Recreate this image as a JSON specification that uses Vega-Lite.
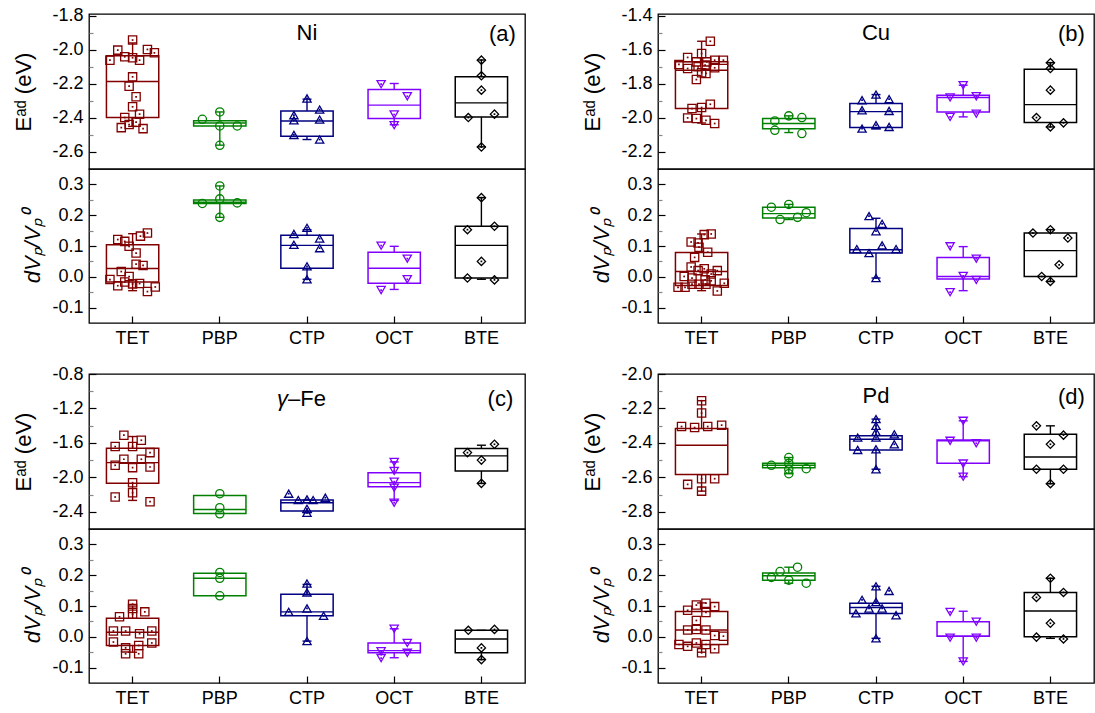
{
"$schema": "https://vega.github.io/schema/vega-lite/v6.json",
"padding": {"left": 12, "top": 6, "right": 0, "bottom": 0},
"config": {
  "font": "Liberation Sans",
  "locale": {"number": {"decimal": ".", "thousands": ",", "grouping": [3], "currency": ["$", ""], "minus": "-"}},
  "view": {"stroke": "black", "strokeWidth": 1.3},
  "tick": {"opacity": 1},
  "axis": {"domain": false, "grid": false, "labelFontSize": 18, "labelColor": "black", "labelFont": "Liberation Sans", "titleFont": "Liberation Sans", "titleFontSize": 22, "titleFontWeight": "normal", "titleColor": "black", "tickColor": "black", "tickWidth": 1.2}
},
"datasets": {
"pts": [
{"p":"a","s":"E","c":"TET","v":-1.943,"j":0},{"p":"a","s":"E","c":"TET","v":-2.002,"j":-0.17},{"p":"a","s":"E","c":"TET","v":-1.998,"j":0.17},{"p":"a","s":"E","c":"TET","v":-2.018,"j":0.25},{"p":"a","s":"E","c":"TET","v":-2.061,"j":-0.26},{"p":"a","s":"E","c":"TET","v":-2.041,"j":-0.09},{"p":"a","s":"E","c":"TET","v":-2.047,"j":0},{"p":"a","s":"E","c":"TET","v":-2.061,"j":0.08},{"p":"a","s":"E","c":"TET","v":-2.159,"j":0},{"p":"a","s":"E","c":"TET","v":-2.214,"j":-0.04},{"p":"a","s":"E","c":"TET","v":-2.276,"j":0.04},{"p":"a","s":"E","c":"TET","v":-2.335,"j":0},{"p":"a","s":"E","c":"TET","v":-2.378,"j":0.08},{"p":"a","s":"E","c":"TET","v":-2.398,"j":-0.09},{"p":"a","s":"E","c":"TET","v":-2.425,"j":0.04},{"p":"a","s":"E","c":"TET","v":-2.439,"j":-0.04},{"p":"a","s":"E","c":"TET","v":-2.457,"j":-0.13},{"p":"a","s":"E","c":"TET","v":-2.463,"j":0.12},
{"p":"a","s":"E","c":"PBP","v":-2.408,"j":-0.2},{"p":"a","s":"E","c":"PBP","v":-2.365,"j":0},{"p":"a","s":"E","c":"PBP","v":-2.447,"j":0},{"p":"a","s":"E","c":"PBP","v":-2.447,"j":0.2},{"p":"a","s":"E","c":"PBP","v":-2.561,"j":0},
{"p":"a","s":"E","c":"CTP","v":-2.286,"j":0},{"p":"a","s":"E","c":"CTP","v":-2.384,"j":-0.15},{"p":"a","s":"E","c":"CTP","v":-2.414,"j":-0.15},{"p":"a","s":"E","c":"CTP","v":-2.351,"j":0.145},{"p":"a","s":"E","c":"CTP","v":-2.41,"j":0.145},{"p":"a","s":"E","c":"CTP","v":-2.5,"j":-0.15},{"p":"a","s":"E","c":"CTP","v":-2.527,"j":0.145},
{"p":"a","s":"E","c":"OCT","v":-2.202,"j":-0.15},{"p":"a","s":"E","c":"OCT","v":-2.273,"j":0.15},{"p":"a","s":"E","c":"OCT","v":-2.38,"j":0},{"p":"a","s":"E","c":"OCT","v":-2.443,"j":0},
{"p":"a","s":"E","c":"BTE","v":-2.061,"j":0},{"p":"a","s":"E","c":"BTE","v":-2.153,"j":0},{"p":"a","s":"E","c":"BTE","v":-2.237,"j":0},{"p":"a","s":"E","c":"BTE","v":-2.398,"j":-0.15},{"p":"a","s":"E","c":"BTE","v":-2.378,"j":0.15},{"p":"a","s":"E","c":"BTE","v":-2.571,"j":0},
{"p":"a","s":"V","c":"TET","v":0.121,"j":-0.17},{"p":"a","s":"V","c":"TET","v":0.115,"j":-0.09},{"p":"a","s":"V","c":"TET","v":0.099,"j":-0.04},{"p":"a","s":"V","c":"TET","v":0.132,"j":0.09},{"p":"a","s":"V","c":"TET","v":0.142,"j":0.17},{"p":"a","s":"V","c":"TET","v":0.077,"j":0.04},{"p":"a","s":"V","c":"TET","v":0.041,"j":0.04},{"p":"a","s":"V","c":"TET","v":0.037,"j":0.12},{"p":"a","s":"V","c":"TET","v":0.017,"j":-0.13},{"p":"a","s":"V","c":"TET","v":0.001,"j":-0.04},{"p":"a","s":"V","c":"TET","v":-0.009,"j":-0.26},{"p":"a","s":"V","c":"TET","v":-0.029,"j":-0.17},{"p":"a","s":"V","c":"TET","v":-0.017,"j":-0.09},{"p":"a","s":"V","c":"TET","v":-0.023,"j":0},{"p":"a","s":"V","c":"TET","v":-0.022,"j":0.08},{"p":"a","s":"V","c":"TET","v":-0.048,"j":0.17},{"p":"a","s":"V","c":"TET","v":-0.033,"j":0.26},
{"p":"a","s":"V","c":"PBP","v":0.295,"j":0},{"p":"a","s":"V","c":"PBP","v":0.253,"j":0},{"p":"a","s":"V","c":"PBP","v":0.238,"j":-0.2},{"p":"a","s":"V","c":"PBP","v":0.24,"j":0.2},{"p":"a","s":"V","c":"PBP","v":0.193,"j":0},
{"p":"a","s":"V","c":"CTP","v":0.159,"j":0},{"p":"a","s":"V","c":"CTP","v":0.139,"j":-0.15},{"p":"a","s":"V","c":"CTP","v":0.104,"j":-0.15},{"p":"a","s":"V","c":"CTP","v":0.124,"j":0.145},{"p":"a","s":"V","c":"CTP","v":0.093,"j":0.145},{"p":"a","s":"V","c":"CTP","v":0.034,"j":0},{"p":"a","s":"V","c":"CTP","v":-0.008,"j":0},
{"p":"a","s":"V","c":"OCT","v":0.101,"j":-0.15},{"p":"a","s":"V","c":"OCT","v":0.059,"j":0.15},{"p":"a","s":"V","c":"OCT","v":-0.008,"j":0.15},{"p":"a","s":"V","c":"OCT","v":-0.043,"j":-0.15},
{"p":"a","s":"V","c":"BTE","v":0.257,"j":0},{"p":"a","s":"V","c":"BTE","v":0.153,"j":-0.16},{"p":"a","s":"V","c":"BTE","v":0.164,"j":0.15},{"p":"a","s":"V","c":"BTE","v":0.05,"j":0},{"p":"a","s":"V","c":"BTE","v":-0.004,"j":-0.16},{"p":"a","s":"V","c":"BTE","v":-0.01,"j":0.15},
{"p":"b","s":"E","c":"TET","v":-1.55,"j":0.1},{"p":"b","s":"E","c":"TET","v":-1.622,"j":0},{"p":"b","s":"E","c":"TET","v":-1.645,"j":-0.16},{"p":"b","s":"E","c":"TET","v":-1.686,"j":-0.26},{"p":"b","s":"E","c":"TET","v":-1.671,"j":-0.06},{"p":"b","s":"E","c":"TET","v":-1.671,"j":0.06},{"p":"b","s":"E","c":"TET","v":-1.661,"j":0.15},{"p":"b","s":"E","c":"TET","v":-1.661,"j":0.25},{"p":"b","s":"E","c":"TET","v":-1.71,"j":-0.16},{"p":"b","s":"E","c":"TET","v":-1.7,"j":-0.04},{"p":"b","s":"E","c":"TET","v":-1.69,"j":0.04},{"p":"b","s":"E","c":"TET","v":-1.706,"j":0.15},{"p":"b","s":"E","c":"TET","v":-1.735,"j":0},{"p":"b","s":"E","c":"TET","v":-1.739,"j":0.05},{"p":"b","s":"E","c":"TET","v":-1.775,"j":-0.06},{"p":"b","s":"E","c":"TET","v":-1.945,"j":-0.11},{"p":"b","s":"E","c":"TET","v":-1.939,"j":0},{"p":"b","s":"E","c":"TET","v":-1.92,"j":0.1},{"p":"b","s":"E","c":"TET","v":-2.0,"j":-0.16},{"p":"b","s":"E","c":"TET","v":-2.004,"j":-0.06},{"p":"b","s":"E","c":"TET","v":-2.014,"j":0.05},{"p":"b","s":"E","c":"TET","v":-2.033,"j":0.15},
{"p":"b","s":"E","c":"PBP","v":-2.018,"j":-0.16},{"p":"b","s":"E","c":"PBP","v":-2.073,"j":-0.16},{"p":"b","s":"E","c":"PBP","v":-1.988,"j":0},{"p":"b","s":"E","c":"PBP","v":-1.998,"j":0.15},{"p":"b","s":"E","c":"PBP","v":-2.092,"j":0.15},
{"p":"b","s":"E","c":"CTP","v":-1.896,"j":-0.16},{"p":"b","s":"E","c":"CTP","v":-1.955,"j":-0.16},{"p":"b","s":"E","c":"CTP","v":-1.863,"j":0},{"p":"b","s":"E","c":"CTP","v":-1.89,"j":0.15},{"p":"b","s":"E","c":"CTP","v":-1.959,"j":0.15},{"p":"b","s":"E","c":"CTP","v":-2.063,"j":-0.16},{"p":"b","s":"E","c":"CTP","v":-2.043,"j":0},{"p":"b","s":"E","c":"CTP","v":-2.053,"j":0.15},
{"p":"b","s":"E","c":"OCT","v":-1.808,"j":0},{"p":"b","s":"E","c":"OCT","v":-1.88,"j":-0.15},{"p":"b","s":"E","c":"OCT","v":-1.873,"j":0.15},{"p":"b","s":"E","c":"OCT","v":-1.994,"j":-0.15},{"p":"b","s":"E","c":"OCT","v":-1.975,"j":0.15},
{"p":"b","s":"E","c":"BTE","v":-1.676,"j":0},{"p":"b","s":"E","c":"BTE","v":-1.71,"j":0},{"p":"b","s":"E","c":"BTE","v":-1.837,"j":0},{"p":"b","s":"E","c":"BTE","v":-1.998,"j":-0.16},{"p":"b","s":"E","c":"BTE","v":-2.029,"j":0.15},{"p":"b","s":"E","c":"BTE","v":-2.053,"j":0},
{"p":"b","s":"V","c":"TET","v":0.139,"j":0.11},{"p":"b","s":"V","c":"TET","v":0.137,"j":0.03},{"p":"b","s":"V","c":"TET","v":0.113,"j":-0.12},{"p":"b","s":"V","c":"TET","v":0.11,"j":-0.04},{"p":"b","s":"V","c":"TET","v":0.096,"j":-0.03},{"p":"b","s":"V","c":"TET","v":0.08,"j":0.07},{"p":"b","s":"V","c":"TET","v":0.063,"j":-0.08},{"p":"b","s":"V","c":"TET","v":0.032,"j":-0.12},{"p":"b","s":"V","c":"TET","v":0.02,"j":-0.04},{"p":"b","s":"V","c":"TET","v":0.026,"j":0.03},{"p":"b","s":"V","c":"TET","v":0.009,"j":0.11},{"p":"b","s":"V","c":"TET","v":0.02,"j":0.18},{"p":"b","s":"V","c":"TET","v":0.001,"j":-0.2},{"p":"b","s":"V","c":"TET","v":-0.004,"j":-0.11},{"p":"b","s":"V","c":"TET","v":-0.01,"j":0.04},{"p":"b","s":"V","c":"TET","v":-0.013,"j":0.11},{"p":"b","s":"V","c":"TET","v":-0.021,"j":0.26},{"p":"b","s":"V","c":"TET","v":-0.034,"j":-0.27},{"p":"b","s":"V","c":"TET","v":-0.034,"j":-0.19},{"p":"b","s":"V","c":"TET","v":-0.024,"j":-0.11},{"p":"b","s":"V","c":"TET","v":-0.024,"j":-0.03},{"p":"b","s":"V","c":"TET","v":-0.024,"j":0.05},{"p":"b","s":"V","c":"TET","v":-0.046,"j":0.18},
{"p":"b","s":"V","c":"PBP","v":0.226,"j":-0.2},{"p":"b","s":"V","c":"PBP","v":0.235,"j":0},{"p":"b","s":"V","c":"PBP","v":0.186,"j":-0.1},{"p":"b","s":"V","c":"PBP","v":0.193,"j":0.1},{"p":"b","s":"V","c":"PBP","v":0.208,"j":0.2},
{"p":"b","s":"V","c":"CTP","v":0.197,"j":-0.08},{"p":"b","s":"V","c":"CTP","v":0.172,"j":0.07},{"p":"b","s":"V","c":"CTP","v":0.148,"j":0},{"p":"b","s":"V","c":"CTP","v":0.102,"j":0.07},{"p":"b","s":"V","c":"CTP","v":0.09,"j":-0.22},{"p":"b","s":"V","c":"CTP","v":0.09,"j":0.23},{"p":"b","s":"V","c":"CTP","v":0.077,"j":-0.08},{"p":"b","s":"V","c":"CTP","v":-0.004,"j":0},
{"p":"b","s":"V","c":"OCT","v":0.099,"j":-0.15},{"p":"b","s":"V","c":"OCT","v":0.059,"j":0.15},{"p":"b","s":"V","c":"OCT","v":0.003,"j":0},{"p":"b","s":"V","c":"OCT","v":-0.01,"j":0.15},{"p":"b","s":"V","c":"OCT","v":-0.05,"j":-0.15},
{"p":"b","s":"V","c":"BTE","v":0.142,"j":-0.2},{"p":"b","s":"V","c":"BTE","v":0.153,"j":0},{"p":"b","s":"V","c":"BTE","v":0.126,"j":0.2},{"p":"b","s":"V","c":"BTE","v":0.039,"j":0.1},{"p":"b","s":"V","c":"BTE","v":0.001,"j":-0.1},{"p":"b","s":"V","c":"BTE","v":-0.015,"j":0},
{"p":"c","s":"E","c":"TET","v":-1.511,"j":-0.1},{"p":"c","s":"E","c":"TET","v":-1.643,"j":-0.2},{"p":"c","s":"E","c":"TET","v":-1.643,"j":0},{"p":"c","s":"E","c":"TET","v":-1.569,"j":0.1},{"p":"c","s":"E","c":"TET","v":-1.713,"j":0.2},{"p":"c","s":"E","c":"TET","v":-1.79,"j":-0.1},{"p":"c","s":"E","c":"TET","v":-1.79,"j":0.1},{"p":"c","s":"E","c":"TET","v":-1.86,"j":-0.2},{"p":"c","s":"E","c":"TET","v":-1.887,"j":0},{"p":"c","s":"E","c":"TET","v":-1.88,"j":0.2},{"p":"c","s":"E","c":"TET","v":-2.062,"j":0},{"p":"c","s":"E","c":"TET","v":-2.179,"j":0},{"p":"c","s":"E","c":"TET","v":-2.229,"j":-0.2},{"p":"c","s":"E","c":"TET","v":-2.283,"j":0.2},
{"p":"c","s":"E","c":"PBP","v":-2.19,"j":0},{"p":"c","s":"E","c":"PBP","v":-2.353,"j":0},{"p":"c","s":"E","c":"PBP","v":-2.423,"j":0},
{"p":"c","s":"E","c":"CTP","v":-2.19,"j":-0.21},{"p":"c","s":"E","c":"CTP","v":-2.264,"j":-0.1},{"p":"c","s":"E","c":"CTP","v":-2.256,"j":0},{"p":"c","s":"E","c":"CTP","v":-2.264,"j":0.07},{"p":"c","s":"E","c":"CTP","v":-2.237,"j":0.21},{"p":"c","s":"E","c":"CTP","v":-2.365,"j":0},{"p":"c","s":"E","c":"CTP","v":-2.412,"j":0},
{"p":"c","s":"E","c":"OCT","v":-1.821,"j":0},{"p":"c","s":"E","c":"OCT","v":-1.926,"j":0},{"p":"c","s":"E","c":"OCT","v":-2.05,"j":0},{"p":"c","s":"E","c":"OCT","v":-2.12,"j":0},{"p":"c","s":"E","c":"OCT","v":-2.295,"j":0},
{"p":"c","s":"E","c":"BTE","v":-1.713,"j":-0.16},{"p":"c","s":"E","c":"BTE","v":-1.616,"j":0.15},{"p":"c","s":"E","c":"BTE","v":-1.8,"j":0},{"p":"c","s":"E","c":"BTE","v":-2.07,"j":0},
{"p":"c","s":"V","c":"TET","v":0.106,"j":0},{"p":"c","s":"V","c":"TET","v":0.092,"j":0},{"p":"c","s":"V","c":"TET","v":0.073,"j":0},{"p":"c","s":"V","c":"TET","v":0.081,"j":0.14},{"p":"c","s":"V","c":"TET","v":0.065,"j":-0.15},{"p":"c","s":"V","c":"TET","v":0.019,"j":-0.22},{"p":"c","s":"V","c":"TET","v":0.019,"j":-0.08},{"p":"c","s":"V","c":"TET","v":0.01,"j":0.08},{"p":"c","s":"V","c":"TET","v":0.019,"j":0.22},{"p":"c","s":"V","c":"TET","v":-0.017,"j":-0.22},{"p":"c","s":"V","c":"TET","v":-0.02,"j":0.22},{"p":"c","s":"V","c":"TET","v":-0.036,"j":-0.08},{"p":"c","s":"V","c":"TET","v":-0.028,"j":0.07},{"p":"c","s":"V","c":"TET","v":-0.055,"j":-0.08},{"p":"c","s":"V","c":"TET","v":-0.055,"j":0.07},
{"p":"c","s":"V","c":"PBP","v":0.209,"j":0},{"p":"c","s":"V","c":"PBP","v":0.19,"j":0},{"p":"c","s":"V","c":"PBP","v":0.133,"j":0},
{"p":"c","s":"V","c":"CTP","v":0.173,"j":0},{"p":"c","s":"V","c":"CTP","v":0.144,"j":0},{"p":"c","s":"V","c":"CTP","v":0.092,"j":0},{"p":"c","s":"V","c":"CTP","v":0.081,"j":-0.21},{"p":"c","s":"V","c":"CTP","v":0.068,"j":0.19},{"p":"c","s":"V","c":"CTP","v":-0.014,"j":0},
{"p":"c","s":"V","c":"OCT","v":0.026,"j":0},{"p":"c","s":"V","c":"OCT","v":-0.02,"j":0.15},{"p":"c","s":"V","c":"OCT","v":-0.047,"j":-0.15},{"p":"c","s":"V","c":"OCT","v":-0.069,"j":-0.15},{"p":"c","s":"V","c":"OCT","v":-0.052,"j":0.15},
{"p":"c","s":"V","c":"BTE","v":0.021,"j":-0.15},{"p":"c","s":"V","c":"BTE","v":0.024,"j":0.15},{"p":"c","s":"V","c":"BTE","v":-0.036,"j":0},{"p":"c","s":"V","c":"BTE","v":-0.074,"j":0},
{"p":"d","s":"E","c":"TET","v":-2.155,"j":0},{"p":"d","s":"E","c":"TET","v":-2.227,"j":0},{"p":"d","s":"E","c":"TET","v":-2.305,"j":-0.23},{"p":"d","s":"E","c":"TET","v":-2.311,"j":-0.08},{"p":"d","s":"E","c":"TET","v":-2.305,"j":0.07},{"p":"d","s":"E","c":"TET","v":-2.297,"j":0.23},{"p":"d","s":"E","c":"TET","v":-2.641,"j":-0.16},{"p":"d","s":"E","c":"TET","v":-2.608,"j":0},{"p":"d","s":"E","c":"TET","v":-2.608,"j":0.15},{"p":"d","s":"E","c":"TET","v":-2.68,"j":0},
{"p":"d","s":"E","c":"PBP","v":-2.53,"j":-0.2},{"p":"d","s":"E","c":"PBP","v":-2.485,"j":0},{"p":"d","s":"E","c":"PBP","v":-2.518,"j":0},{"p":"d","s":"E","c":"PBP","v":-2.553,"j":0},{"p":"d","s":"E","c":"PBP","v":-2.579,"j":0},{"p":"d","s":"E","c":"PBP","v":-2.55,"j":0.2},
{"p":"d","s":"E","c":"CTP","v":-2.262,"j":0},{"p":"d","s":"E","c":"CTP","v":-2.301,"j":0},{"p":"d","s":"E","c":"CTP","v":-2.336,"j":0},{"p":"d","s":"E","c":"CTP","v":-2.369,"j":-0.21},{"p":"d","s":"E","c":"CTP","v":-2.35,"j":0.21},{"p":"d","s":"E","c":"CTP","v":-2.369,"j":0},{"p":"d","s":"E","c":"CTP","v":-2.441,"j":-0.21},{"p":"d","s":"E","c":"CTP","v":-2.408,"j":0.21},{"p":"d","s":"E","c":"CTP","v":-2.437,"j":0},{"p":"d","s":"E","c":"CTP","v":-2.553,"j":0},
{"p":"d","s":"E","c":"OCT","v":-2.272,"j":0},{"p":"d","s":"E","c":"OCT","v":-2.388,"j":-0.15},{"p":"d","s":"E","c":"OCT","v":-2.402,"j":0.15},{"p":"d","s":"E","c":"OCT","v":-2.52,"j":0},{"p":"d","s":"E","c":"OCT","v":-2.596,"j":0},
{"p":"d","s":"E","c":"BTE","v":-2.301,"j":-0.16},{"p":"d","s":"E","c":"BTE","v":-2.355,"j":0.15},{"p":"d","s":"E","c":"BTE","v":-2.408,"j":0},{"p":"d","s":"E","c":"BTE","v":-2.553,"j":-0.16},{"p":"d","s":"E","c":"BTE","v":-2.553,"j":0.15},{"p":"d","s":"E","c":"BTE","v":-2.637,"j":0},
{"p":"d","s":"V","c":"TET","v":0.086,"j":-0.16},{"p":"d","s":"V","c":"TET","v":0.103,"j":-0.06},{"p":"d","s":"V","c":"TET","v":0.109,"j":0.05},{"p":"d","s":"V","c":"TET","v":0.098,"j":0.15},{"p":"d","s":"V","c":"TET","v":0.079,"j":0.05},{"p":"d","s":"V","c":"TET","v":0.053,"j":-0.06},{"p":"d","s":"V","c":"TET","v":0.022,"j":-0.16},{"p":"d","s":"V","c":"TET","v":0.024,"j":-0.06},{"p":"d","s":"V","c":"TET","v":0.022,"j":0.05},{"p":"d","s":"V","c":"TET","v":0.004,"j":0.15},{"p":"d","s":"V","c":"TET","v":0.002,"j":0.25},{"p":"d","s":"V","c":"TET","v":-0.025,"j":-0.26},{"p":"d","s":"V","c":"TET","v":-0.031,"j":-0.16},{"p":"d","s":"V","c":"TET","v":-0.02,"j":-0.06},{"p":"d","s":"V","c":"TET","v":-0.025,"j":0.05},{"p":"d","s":"V","c":"TET","v":-0.039,"j":0.15},{"p":"d","s":"V","c":"TET","v":-0.052,"j":0},
{"p":"d","s":"V","c":"PBP","v":0.193,"j":-0.2},{"p":"d","s":"V","c":"PBP","v":0.212,"j":-0.1},{"p":"d","s":"V","c":"PBP","v":0.184,"j":0},{"p":"d","s":"V","c":"PBP","v":0.226,"j":0.1},{"p":"d","s":"V","c":"PBP","v":0.174,"j":0.2},
{"p":"d","s":"V","c":"CTP","v":0.164,"j":0},{"p":"d","s":"V","c":"CTP","v":0.149,"j":0.15},{"p":"d","s":"V","c":"CTP","v":0.12,"j":-0.16},{"p":"d","s":"V","c":"CTP","v":0.113,"j":0},{"p":"d","s":"V","c":"CTP","v":0.076,"j":-0.23},{"p":"d","s":"V","c":"CTP","v":0.092,"j":-0.08},{"p":"d","s":"V","c":"CTP","v":0.092,"j":0.07},{"p":"d","s":"V","c":"CTP","v":0.07,"j":0.23},{"p":"d","s":"V","c":"CTP","v":-0.005,"j":0},
{"p":"d","s":"V","c":"OCT","v":0.081,"j":-0.15},{"p":"d","s":"V","c":"OCT","v":0.049,"j":0.15},{"p":"d","s":"V","c":"OCT","v":-0.003,"j":-0.15},{"p":"d","s":"V","c":"OCT","v":-0.003,"j":0.15},{"p":"d","s":"V","c":"OCT","v":-0.08,"j":0},
{"p":"d","s":"V","c":"BTE","v":0.19,"j":0},{"p":"d","s":"V","c":"BTE","v":0.128,"j":-0.16},{"p":"d","s":"V","c":"BTE","v":0.144,"j":0.15},{"p":"d","s":"V","c":"BTE","v":0.044,"j":0},{"p":"d","s":"V","c":"BTE","v":-0.001,"j":-0.16},{"p":"d","s":"V","c":"BTE","v":-0.007,"j":0.15}
],
"box": [
{"p":"a","s":"E","c":"TET","q1":-2.398,"med":-2.186,"q3":-2.035,"lo":-2.45,"hi":-1.96},
{"p":"a","s":"E","c":"PBP","q1":-2.447,"med":-2.43,"q3":-2.416,"lo":-2.56,"hi":-2.365},
{"p":"a","s":"E","c":"CTP","q1":-2.508,"med":-2.418,"q3":-2.359,"lo":-2.527,"hi":-2.29},
{"p":"a","s":"E","c":"OCT","q1":-2.404,"med":-2.325,"q3":-2.233,"lo":-2.44,"hi":-2.198},
{"p":"a","s":"E","c":"BTE","q1":-2.394,"med":-2.312,"q3":-2.159,"lo":-2.57,"hi":-2.06},
{"p":"a","s":"V","c":"TET","q1":-0.017,"med":0.027,"q3":0.104,"lo":-0.045,"hi":0.14},
{"p":"a","s":"V","c":"PBP","q1":0.238,"med":0.242,"q3":0.249,"lo":0.193,"hi":0.295},
{"p":"a","s":"V","c":"CTP","q1":0.028,"med":0.102,"q3":0.135,"lo":-0.008,"hi":0.153},
{"p":"a","s":"V","c":"OCT","q1":-0.021,"med":0.028,"q3":0.08,"lo":-0.041,"hi":0.099},
{"p":"a","s":"V","c":"BTE","q1":-0.004,"med":0.102,"q3":0.164,"lo":-0.008,"hi":0.257},
{"p":"b","s":"E","c":"TET","q1":-1.945,"med":-1.72,"q3":-1.671,"lo":-2.03,"hi":-1.55},
{"p":"b","s":"E","c":"PBP","q1":-2.063,"med":-2.033,"q3":-2.004,"lo":-2.086,"hi":-1.988},
{"p":"b","s":"E","c":"CTP","q1":-2.057,"med":-1.963,"q3":-1.916,"lo":-2.063,"hi":-1.863},
{"p":"b","s":"E","c":"OCT","q1":-1.965,"med":-1.88,"q3":-1.867,"lo":-1.994,"hi":-1.808},
{"p":"b","s":"E","c":"BTE","q1":-2.027,"med":-1.922,"q3":-1.714,"lo":-2.053,"hi":-1.676},
{"p":"b","s":"V","c":"TET","q1":-0.028,"med":0.017,"q3":0.079,"lo":-0.045,"hi":0.139},
{"p":"b","s":"V","c":"PBP","q1":0.191,"med":0.205,"q3":0.226,"lo":0.186,"hi":0.235},
{"p":"b","s":"V","c":"CTP","q1":0.077,"med":0.088,"q3":0.157,"lo":-0.004,"hi":0.19},
{"p":"b","s":"V","c":"OCT","q1":-0.007,"med":0.001,"q3":0.063,"lo":-0.045,"hi":0.098},
{"p":"b","s":"V","c":"BTE","q1":0.001,"med":0.085,"q3":0.142,"lo":-0.015,"hi":0.153},
{"p":"c","s":"E","c":"TET","q1":-2.07,"med":-1.829,"q3":-1.662,"lo":-2.268,"hi":-1.526},
{"p":"c","s":"E","c":"PBP","q1":-2.419,"med":-2.373,"q3":-2.21,"lo":-2.419,"hi":-2.21},
{"p":"c","s":"E","c":"CTP","q1":-2.392,"med":-2.295,"q3":-2.264,"lo":-2.412,"hi":-2.264},
{"p":"c","s":"E","c":"OCT","q1":-2.109,"med":-2.062,"q3":-1.946,"lo":-2.27,"hi":-1.821},
{"p":"c","s":"E","c":"BTE","q1":-1.926,"med":-1.751,"q3":-1.666,"lo":-2.07,"hi":-1.627},
{"p":"c","s":"V","c":"TET","q1":-0.028,"med":0.015,"q3":0.06,"lo":-0.05,"hi":0.1},
{"p":"c","s":"V","c":"PBP","q1":0.133,"med":0.19,"q3":0.206,"lo":0.133,"hi":0.206},
{"p":"c","s":"V","c":"CTP","q1":0.068,"med":0.081,"q3":0.138,"lo":-0.014,"hi":0.17},
{"p":"c","s":"V","c":"OCT","q1":-0.052,"med":-0.045,"q3":-0.02,"lo":-0.068,"hi":0.026},
{"p":"c","s":"V","c":"BTE","q1":-0.052,"med":-0.007,"q3":0.021,"lo":-0.074,"hi":0.021},
{"p":"d","s":"E","c":"TET","q1":-2.583,"med":-2.414,"q3":-2.317,"lo":-2.68,"hi":-2.155},
{"p":"d","s":"E","c":"PBP","q1":-2.544,"med":-2.53,"q3":-2.518,"lo":-2.579,"hi":-2.485},
{"p":"d","s":"E","c":"CTP","q1":-2.441,"med":-2.379,"q3":-2.359,"lo":-2.553,"hi":-2.262},
{"p":"d","s":"E","c":"OCT","q1":-2.518,"med":-2.388,"q3":-2.383,"lo":-2.596,"hi":-2.272},
{"p":"d","s":"E","c":"BTE","q1":-2.553,"med":-2.482,"q3":-2.35,"lo":-2.637,"hi":-2.301},
{"p":"d","s":"V","c":"TET","q1":-0.025,"med":0.022,"q3":0.082,"lo":-0.05,"hi":0.11},
{"p":"d","s":"V","c":"PBP","q1":0.184,"med":0.198,"q3":0.207,"lo":0.174,"hi":0.226},
{"p":"d","s":"V","c":"CTP","q1":0.076,"med":0.095,"q3":0.109,"lo":-0.005,"hi":0.164},
{"p":"d","s":"V","c":"OCT","q1":0.002,"med":0.002,"q3":0.049,"lo":-0.08,"hi":0.083},
{"p":"d","s":"V","c":"BTE","q1":0.0,"med":0.084,"q3":0.144,"lo":-0.005,"hi":0.19}
]
},
"spacing": 16,
"vconcat": [
{"spacing": 55, "hconcat": [
 {"spacing": 0, "bounds": "flush", "vconcat": [
  {"width": 436, "height": 155, "resolve": {"axis": {"y": "independent"}, "scale": {"xOffset": "independent"}},
   "encoding": {"x": {"field": "c", "type": "nominal", "scale": {"domain": ["TET","PBP","CTP","OCT","BTE"], "paddingInner": 0.4, "paddingOuter": 0.2}, "axis": null},
     "color": {"field": "c", "type": "nominal", "scale": {"domain": ["TET","PBP","CTP","OCT","BTE"], "range": ["#800000","#008000","#000080","#8000FF","#000000"]}, "legend": null}},
   "layer": [
    {"data": {"name": "box"}, "transform": [{"filter": "datum.p=='a'&&datum.s=='E'"}], "mark": {"type": "bar", "filled": false, "strokeWidth": 1.5, "width": {"band": 1}},
     "encoding": {"y": {"field": "q1", "type": "quantitative", "scale": {"domain": [-2.7, -1.79], "nice": false, "zero": false},
       "axis": {"orient": "left", "title": "Eᵃᵈ (eV)", "values": [-2.6,-2.4,-2.2,-2.0,-1.8], "format": ".1f", "tickSize": 7, "offset": -7, "labelPadding": 6, "titlePadding": 16}},
      "y2": {"field": "q3"}}},
    {"data": {"name": "box"}, "transform": [{"filter": "datum.p=='a'&&datum.s=='E'"}], "mark": {"type": "tick", "size": 52, "thickness": 1.4, "opacity": 1},
     "encoding": {"y": {"field": "med", "type": "quantitative", "axis": {"orient": "left", "values": [-2.5,-2.3,-2.1,-1.9], "labels": false, "title": null, "tickSize": 4, "offset": -4, "tickColor": "#888"}}}},
    {"data": {"name": "box"}, "transform": [{"filter": "datum.p=='a'&&datum.s=='E'"}], "mark": {"type": "rule", "strokeWidth": 1.4}, "encoding": {"y": {"field": "q3", "type": "quantitative", "axis": null}, "y2": {"field": "hi"}}},
    {"data": {"name": "box"}, "transform": [{"filter": "datum.p=='a'&&datum.s=='E'"}], "mark": {"type": "rule", "strokeWidth": 1.4}, "encoding": {"y": {"field": "lo", "type": "quantitative", "axis": null}, "y2": {"field": "q1"}}},
    {"data": {"name": "box"}, "transform": [{"filter": "datum.p=='a'&&datum.s=='E'"}], "mark": {"type": "tick", "size": 9, "thickness": 1.4, "opacity": 1}, "encoding": {"y": {"field": "hi", "type": "quantitative", "axis": null}}},
    {"data": {"name": "box"}, "transform": [{"filter": "datum.p=='a'&&datum.s=='E'"}], "mark": {"type": "tick", "size": 9, "thickness": 1.4, "opacity": 1}, "encoding": {"y": {"field": "lo", "type": "quantitative", "axis": null}}},
    {"data": {"name": "pts"}, "transform": [{"filter": "datum.p=='a'&&datum.s=='E'"}], "mark": {"type": "point", "filled": false, "size": 68, "strokeWidth": 1.3, "opacity": 1},
     "encoding": {"y": {"field": "v", "type": "quantitative", "axis": null}, "xOffset": {"field": "j", "type": "quantitative", "scale": {"domain": [-0.3, 0.3]}},
      "shape": {"field": "c", "type": "nominal", "scale": {"domain": ["TET","PBP","CTP","OCT","BTE"], "range": ["square","circle","triangle-up","triangle-down","diamond"]}, "legend": null}}},
    {"data": {"name": "pts"}, "transform": [{"filter": "datum.p=='a'&&datum.s=='E'&&datum.c!='PBP'"}], "mark": {"type": "point", "filled": true, "size": 3, "shape": "square", "opacity": 1},
     "encoding": {"y": {"field": "v", "type": "quantitative", "axis": null}, "xOffset": {"field": "j", "type": "quantitative", "scale": {"domain": [-0.3, 0.3]}}}},
    {"data": {"values": [{}]}, "mark": {"type": "text", "text": "Ni", "fontSize": 22, "baseline": "middle", "align": "center"}, "encoding": {"x": {"datum": "CTP"}, "y": {"datum": -1.904, "axis": null}, "color": {"value": "black"}}},
    {"data": {"values": [{}]}, "mark": {"type": "text", "text": "(a)", "fontSize": 22, "baseline": "middle", "align": "center", "dx": 21}, "encoding": {"x": {"datum": "BTE"}, "y": {"datum": -1.91, "axis": null}, "color": {"value": "black"}}}
   ]},
  {"width": 436, "height": 154, "resolve": {"axis": {"y": "independent"}, "scale": {"xOffset": "independent"}},
   "encoding": {"x": {"field": "c", "type": "nominal", "scale": {"domain": ["TET","PBP","CTP","OCT","BTE"], "paddingInner": 0.4, "paddingOuter": 0.2}, "axis": {"title": null, "labelAngle": 0, "tickSize": 7, "offset": -7, "labelPadding": 6}},
     "color": {"field": "c", "type": "nominal", "scale": {"domain": ["TET","PBP","CTP","OCT","BTE"], "range": ["#800000","#008000","#000080","#8000FF","#000000"]}, "legend": null}},
   "layer": [
    {"data": {"name": "box"}, "transform": [{"filter": "datum.p=='a'&&datum.s=='V'"}], "mark": {"type": "bar", "filled": false, "strokeWidth": 1.5, "width": {"band": 1}},
     "encoding": {"y": {"field": "q1", "type": "quantitative", "scale": {"domain": [-0.15, 0.35], "nice": false, "zero": false},
       "axis": {"orient": "left", "title": "dVₚ/Vₚ⁰", "titleFontStyle": "italic", "values": [-0.1,0,0.1,0.2,0.3], "format": ".1f", "tickSize": 7, "offset": -7, "labelPadding": 6, "titlePadding": 7}},
      "y2": {"field": "q3"}}},
    {"data": {"name": "box"}, "transform": [{"filter": "datum.p=='a'&&datum.s=='V'"}], "mark": {"type": "tick", "size": 52, "thickness": 1.4, "opacity": 1},
     "encoding": {"y": {"field": "med", "type": "quantitative", "axis": {"orient": "left", "values": [-0.05,0.05,0.15,0.25], "labels": false, "title": null, "tickSize": 4, "offset": -4, "tickColor": "#888"}}}},
    {"data": {"name": "box"}, "transform": [{"filter": "datum.p=='a'&&datum.s=='V'"}], "mark": {"type": "rule", "strokeWidth": 1.4}, "encoding": {"y": {"field": "q3", "type": "quantitative", "axis": null}, "y2": {"field": "hi"}}},
    {"data": {"name": "box"}, "transform": [{"filter": "datum.p=='a'&&datum.s=='V'"}], "mark": {"type": "rule", "strokeWidth": 1.4}, "encoding": {"y": {"field": "lo", "type": "quantitative", "axis": null}, "y2": {"field": "q1"}}},
    {"data": {"name": "box"}, "transform": [{"filter": "datum.p=='a'&&datum.s=='V'"}], "mark": {"type": "tick", "size": 9, "thickness": 1.4, "opacity": 1}, "encoding": {"y": {"field": "hi", "type": "quantitative", "axis": null}}},
    {"data": {"name": "box"}, "transform": [{"filter": "datum.p=='a'&&datum.s=='V'"}], "mark": {"type": "tick", "size": 9, "thickness": 1.4, "opacity": 1}, "encoding": {"y": {"field": "lo", "type": "quantitative", "axis": null}}},
    {"data": {"name": "pts"}, "transform": [{"filter": "datum.p=='a'&&datum.s=='V'"}], "mark": {"type": "point", "filled": false, "size": 68, "strokeWidth": 1.3, "opacity": 1},
     "encoding": {"y": {"field": "v", "type": "quantitative", "axis": null}, "xOffset": {"field": "j", "type": "quantitative", "scale": {"domain": [-0.3, 0.3]}},
      "shape": {"field": "c", "type": "nominal", "scale": {"domain": ["TET","PBP","CTP","OCT","BTE"], "range": ["square","circle","triangle-up","triangle-down","diamond"]}, "legend": null}}},
    {"data": {"name": "pts"}, "transform": [{"filter": "datum.p=='a'&&datum.s=='V'&&datum.c!='PBP'"}], "mark": {"type": "point", "filled": true, "size": 3, "shape": "square", "opacity": 1},
     "encoding": {"y": {"field": "v", "type": "quantitative", "axis": null}, "xOffset": {"field": "j", "type": "quantitative", "scale": {"domain": [-0.3, 0.3]}}}}
   ]}
 ]},
 {"spacing": 0, "bounds": "flush", "vconcat": [
  {"width": 436, "height": 155, "resolve": {"axis": {"y": "independent"}, "scale": {"xOffset": "independent"}},
   "encoding": {"x": {"field": "c", "type": "nominal", "scale": {"domain": ["TET","PBP","CTP","OCT","BTE"], "paddingInner": 0.4, "paddingOuter": 0.2}, "axis": null},
     "color": {"field": "c", "type": "nominal", "scale": {"domain": ["TET","PBP","CTP","OCT","BTE"], "range": ["#800000","#008000","#000080","#8000FF","#000000"]}, "legend": null}},
   "layer": [
    {"data": {"name": "box"}, "transform": [{"filter": "datum.p=='b'&&datum.s=='E'"}], "mark": {"type": "bar", "filled": false, "strokeWidth": 1.5, "width": {"band": 1}},
     "encoding": {"y": {"field": "q1", "type": "quantitative", "scale": {"domain": [-2.3, -1.39], "nice": false, "zero": false},
       "axis": {"orient": "left", "title": "Eᵃᵈ (eV)", "values": [-2.2,-2.0,-1.8,-1.6,-1.4], "format": ".1f", "tickSize": 7, "offset": -7, "labelPadding": 6, "titlePadding": 16}},
      "y2": {"field": "q3"}}},
    {"data": {"name": "box"}, "transform": [{"filter": "datum.p=='b'&&datum.s=='E'"}], "mark": {"type": "tick", "size": 52, "thickness": 1.4, "opacity": 1},
     "encoding": {"y": {"field": "med", "type": "quantitative", "axis": {"orient": "left", "values": [-2.1,-1.9,-1.7,-1.5], "labels": false, "title": null, "tickSize": 4, "offset": -4, "tickColor": "#888"}}}},
    {"data": {"name": "box"}, "transform": [{"filter": "datum.p=='b'&&datum.s=='E'"}], "mark": {"type": "rule", "strokeWidth": 1.4}, "encoding": {"y": {"field": "q3", "type": "quantitative", "axis": null}, "y2": {"field": "hi"}}},
    {"data": {"name": "box"}, "transform": [{"filter": "datum.p=='b'&&datum.s=='E'"}], "mark": {"type": "rule", "strokeWidth": 1.4}, "encoding": {"y": {"field": "lo", "type": "quantitative", "axis": null}, "y2": {"field": "q1"}}},
    {"data": {"name": "box"}, "transform": [{"filter": "datum.p=='b'&&datum.s=='E'"}], "mark": {"type": "tick", "size": 9, "thickness": 1.4, "opacity": 1}, "encoding": {"y": {"field": "hi", "type": "quantitative", "axis": null}}},
    {"data": {"name": "box"}, "transform": [{"filter": "datum.p=='b'&&datum.s=='E'"}], "mark": {"type": "tick", "size": 9, "thickness": 1.4, "opacity": 1}, "encoding": {"y": {"field": "lo", "type": "quantitative", "axis": null}}},
    {"data": {"name": "pts"}, "transform": [{"filter": "datum.p=='b'&&datum.s=='E'"}], "mark": {"type": "point", "filled": false, "size": 68, "strokeWidth": 1.3, "opacity": 1},
     "encoding": {"y": {"field": "v", "type": "quantitative", "axis": null}, "xOffset": {"field": "j", "type": "quantitative", "scale": {"domain": [-0.3, 0.3]}},
      "shape": {"field": "c", "type": "nominal", "scale": {"domain": ["TET","PBP","CTP","OCT","BTE"], "range": ["square","circle","triangle-up","triangle-down","diamond"]}, "legend": null}}},
    {"data": {"name": "pts"}, "transform": [{"filter": "datum.p=='b'&&datum.s=='E'&&datum.c!='PBP'"}], "mark": {"type": "point", "filled": true, "size": 3, "shape": "square", "opacity": 1},
     "encoding": {"y": {"field": "v", "type": "quantitative", "axis": null}, "xOffset": {"field": "j", "type": "quantitative", "scale": {"domain": [-0.3, 0.3]}}}},
    {"data": {"values": [{}]}, "mark": {"type": "text", "text": "Cu", "fontSize": 22, "baseline": "middle", "align": "center"}, "encoding": {"x": {"datum": "CTP"}, "y": {"datum": -1.504, "axis": null}, "color": {"value": "black"}}},
    {"data": {"values": [{}]}, "mark": {"type": "text", "text": "(b)", "fontSize": 22, "baseline": "middle", "align": "center", "dx": 21}, "encoding": {"x": {"datum": "BTE"}, "y": {"datum": -1.51, "axis": null}, "color": {"value": "black"}}}
   ]},
  {"width": 436, "height": 154, "resolve": {"axis": {"y": "independent"}, "scale": {"xOffset": "independent"}},
   "encoding": {"x": {"field": "c", "type": "nominal", "scale": {"domain": ["TET","PBP","CTP","OCT","BTE"], "paddingInner": 0.4, "paddingOuter": 0.2}, "axis": {"title": null, "labelAngle": 0, "tickSize": 7, "offset": -7, "labelPadding": 6}},
     "color": {"field": "c", "type": "nominal", "scale": {"domain": ["TET","PBP","CTP","OCT","BTE"], "range": ["#800000","#008000","#000080","#8000FF","#000000"]}, "legend": null}},
   "layer": [
    {"data": {"name": "box"}, "transform": [{"filter": "datum.p=='b'&&datum.s=='V'"}], "mark": {"type": "bar", "filled": false, "strokeWidth": 1.5, "width": {"band": 1}},
     "encoding": {"y": {"field": "q1", "type": "quantitative", "scale": {"domain": [-0.15, 0.35], "nice": false, "zero": false},
       "axis": {"orient": "left", "title": "dVₚ/Vₚ⁰", "titleFontStyle": "italic", "values": [-0.1,0,0.1,0.2,0.3], "format": ".1f", "tickSize": 7, "offset": -7, "labelPadding": 6, "titlePadding": 7}},
      "y2": {"field": "q3"}}},
    {"data": {"name": "box"}, "transform": [{"filter": "datum.p=='b'&&datum.s=='V'"}], "mark": {"type": "tick", "size": 52, "thickness": 1.4, "opacity": 1},
     "encoding": {"y": {"field": "med", "type": "quantitative", "axis": {"orient": "left", "values": [-0.05,0.05,0.15,0.25], "labels": false, "title": null, "tickSize": 4, "offset": -4, "tickColor": "#888"}}}},
    {"data": {"name": "box"}, "transform": [{"filter": "datum.p=='b'&&datum.s=='V'"}], "mark": {"type": "rule", "strokeWidth": 1.4}, "encoding": {"y": {"field": "q3", "type": "quantitative", "axis": null}, "y2": {"field": "hi"}}},
    {"data": {"name": "box"}, "transform": [{"filter": "datum.p=='b'&&datum.s=='V'"}], "mark": {"type": "rule", "strokeWidth": 1.4}, "encoding": {"y": {"field": "lo", "type": "quantitative", "axis": null}, "y2": {"field": "q1"}}},
    {"data": {"name": "box"}, "transform": [{"filter": "datum.p=='b'&&datum.s=='V'"}], "mark": {"type": "tick", "size": 9, "thickness": 1.4, "opacity": 1}, "encoding": {"y": {"field": "hi", "type": "quantitative", "axis": null}}},
    {"data": {"name": "box"}, "transform": [{"filter": "datum.p=='b'&&datum.s=='V'"}], "mark": {"type": "tick", "size": 9, "thickness": 1.4, "opacity": 1}, "encoding": {"y": {"field": "lo", "type": "quantitative", "axis": null}}},
    {"data": {"name": "pts"}, "transform": [{"filter": "datum.p=='b'&&datum.s=='V'"}], "mark": {"type": "point", "filled": false, "size": 68, "strokeWidth": 1.3, "opacity": 1},
     "encoding": {"y": {"field": "v", "type": "quantitative", "axis": null}, "xOffset": {"field": "j", "type": "quantitative", "scale": {"domain": [-0.3, 0.3]}},
      "shape": {"field": "c", "type": "nominal", "scale": {"domain": ["TET","PBP","CTP","OCT","BTE"], "range": ["square","circle","triangle-up","triangle-down","diamond"]}, "legend": null}}},
    {"data": {"name": "pts"}, "transform": [{"filter": "datum.p=='b'&&datum.s=='V'&&datum.c!='PBP'"}], "mark": {"type": "point", "filled": true, "size": 3, "shape": "square", "opacity": 1},
     "encoding": {"y": {"field": "v", "type": "quantitative", "axis": null}, "xOffset": {"field": "j", "type": "quantitative", "scale": {"domain": [-0.3, 0.3]}}}}
   ]}
 ]}
]},
{"spacing": 55, "hconcat": [
 {"spacing": 0, "bounds": "flush", "vconcat": [
  {"width": 436, "height": 155, "resolve": {"axis": {"y": "independent"}, "scale": {"xOffset": "independent"}},
   "encoding": {"x": {"field": "c", "type": "nominal", "scale": {"domain": ["TET","PBP","CTP","OCT","BTE"], "paddingInner": 0.4, "paddingOuter": 0.2}, "axis": null},
     "color": {"field": "c", "type": "nominal", "scale": {"domain": ["TET","PBP","CTP","OCT","BTE"], "range": ["#800000","#008000","#000080","#8000FF","#000000"]}, "legend": null}},
   "layer": [
    {"data": {"name": "box"}, "transform": [{"filter": "datum.p=='c'&&datum.s=='E'"}], "mark": {"type": "bar", "filled": false, "strokeWidth": 1.5, "width": {"band": 1}},
     "encoding": {"y": {"field": "q1", "type": "quantitative", "scale": {"domain": [-2.6, -0.8], "nice": false, "zero": false},
       "axis": {"orient": "left", "title": "Eᵃᵈ (eV)", "values": [-2.4,-2.0,-1.6,-1.2,-0.8], "format": ".1f", "tickSize": 7, "offset": -7, "labelPadding": 6, "titlePadding": 16}},
      "y2": {"field": "q3"}}},
    {"data": {"name": "box"}, "transform": [{"filter": "datum.p=='c'&&datum.s=='E'"}], "mark": {"type": "tick", "size": 52, "thickness": 1.4, "opacity": 1},
     "encoding": {"y": {"field": "med", "type": "quantitative", "axis": {"orient": "left", "values": [-2.2,-1.8,-1.4,-1.0], "labels": false, "title": null, "tickSize": 4, "offset": -4, "tickColor": "#888"}}}},
    {"data": {"name": "box"}, "transform": [{"filter": "datum.p=='c'&&datum.s=='E'"}], "mark": {"type": "rule", "strokeWidth": 1.4}, "encoding": {"y": {"field": "q3", "type": "quantitative", "axis": null}, "y2": {"field": "hi"}}},
    {"data": {"name": "box"}, "transform": [{"filter": "datum.p=='c'&&datum.s=='E'"}], "mark": {"type": "rule", "strokeWidth": 1.4}, "encoding": {"y": {"field": "lo", "type": "quantitative", "axis": null}, "y2": {"field": "q1"}}},
    {"data": {"name": "box"}, "transform": [{"filter": "datum.p=='c'&&datum.s=='E'"}], "mark": {"type": "tick", "size": 9, "thickness": 1.4, "opacity": 1}, "encoding": {"y": {"field": "hi", "type": "quantitative", "axis": null}}},
    {"data": {"name": "box"}, "transform": [{"filter": "datum.p=='c'&&datum.s=='E'"}], "mark": {"type": "tick", "size": 9, "thickness": 1.4, "opacity": 1}, "encoding": {"y": {"field": "lo", "type": "quantitative", "axis": null}}},
    {"data": {"name": "pts"}, "transform": [{"filter": "datum.p=='c'&&datum.s=='E'"}], "mark": {"type": "point", "filled": false, "size": 68, "strokeWidth": 1.3, "opacity": 1},
     "encoding": {"y": {"field": "v", "type": "quantitative", "axis": null}, "xOffset": {"field": "j", "type": "quantitative", "scale": {"domain": [-0.3, 0.3]}},
      "shape": {"field": "c", "type": "nominal", "scale": {"domain": ["TET","PBP","CTP","OCT","BTE"], "range": ["square","circle","triangle-up","triangle-down","diamond"]}, "legend": null}}},
    {"data": {"name": "pts"}, "transform": [{"filter": "datum.p=='c'&&datum.s=='E'&&datum.c!='PBP'"}], "mark": {"type": "point", "filled": true, "size": 3, "shape": "square", "opacity": 1},
     "encoding": {"y": {"field": "v", "type": "quantitative", "axis": null}, "xOffset": {"field": "j", "type": "quantitative", "scale": {"domain": [-0.3, 0.3]}}}},
    {"data": {"values": [{}]}, "mark": {"type": "text", "text": "γ", "fontSize": 22, "fontStyle": "italic", "baseline": "middle", "align": "right", "dx": -19}, "encoding": {"x": {"datum": "CTP"}, "y": {"datum": -1.091, "axis": null}, "color": {"value": "black"}}},
    {"data": {"values": [{}]}, "mark": {"type": "text", "text": "–Fe", "fontSize": 22, "baseline": "middle", "align": "left", "dx": -19}, "encoding": {"x": {"datum": "CTP"}, "y": {"datum": -1.091, "axis": null}, "color": {"value": "black"}}},
    {"data": {"values": [{}]}, "mark": {"type": "text", "text": "(c)", "fontSize": 22, "baseline": "middle", "align": "center", "dx": 19}, "encoding": {"x": {"datum": "BTE"}, "y": {"datum": -1.091, "axis": null}, "color": {"value": "black"}}}
   ]},
  {"width": 436, "height": 154, "resolve": {"axis": {"y": "independent"}, "scale": {"xOffset": "independent"}},
   "encoding": {"x": {"field": "c", "type": "nominal", "scale": {"domain": ["TET","PBP","CTP","OCT","BTE"], "paddingInner": 0.4, "paddingOuter": 0.2}, "axis": {"title": null, "labelAngle": 0, "tickSize": 7, "offset": -7, "labelPadding": 6}},
     "color": {"field": "c", "type": "nominal", "scale": {"domain": ["TET","PBP","CTP","OCT","BTE"], "range": ["#800000","#008000","#000080","#8000FF","#000000"]}, "legend": null}},
   "layer": [
    {"data": {"name": "box"}, "transform": [{"filter": "datum.p=='c'&&datum.s=='V'"}], "mark": {"type": "bar", "filled": false, "strokeWidth": 1.5, "width": {"band": 1}},
     "encoding": {"y": {"field": "q1", "type": "quantitative", "scale": {"domain": [-0.15, 0.35], "nice": false, "zero": false},
       "axis": {"orient": "left", "title": "dVₚ/Vₚ⁰", "titleFontStyle": "italic", "values": [-0.1,0,0.1,0.2,0.3], "format": ".1f", "tickSize": 7, "offset": -7, "labelPadding": 6, "titlePadding": 7}},
      "y2": {"field": "q3"}}},
    {"data": {"name": "box"}, "transform": [{"filter": "datum.p=='c'&&datum.s=='V'"}], "mark": {"type": "tick", "size": 52, "thickness": 1.4, "opacity": 1},
     "encoding": {"y": {"field": "med", "type": "quantitative", "axis": {"orient": "left", "values": [-0.05,0.05,0.15,0.25], "labels": false, "title": null, "tickSize": 4, "offset": -4, "tickColor": "#888"}}}},
    {"data": {"name": "box"}, "transform": [{"filter": "datum.p=='c'&&datum.s=='V'"}], "mark": {"type": "rule", "strokeWidth": 1.4}, "encoding": {"y": {"field": "q3", "type": "quantitative", "axis": null}, "y2": {"field": "hi"}}},
    {"data": {"name": "box"}, "transform": [{"filter": "datum.p=='c'&&datum.s=='V'"}], "mark": {"type": "rule", "strokeWidth": 1.4}, "encoding": {"y": {"field": "lo", "type": "quantitative", "axis": null}, "y2": {"field": "q1"}}},
    {"data": {"name": "box"}, "transform": [{"filter": "datum.p=='c'&&datum.s=='V'"}], "mark": {"type": "tick", "size": 9, "thickness": 1.4, "opacity": 1}, "encoding": {"y": {"field": "hi", "type": "quantitative", "axis": null}}},
    {"data": {"name": "box"}, "transform": [{"filter": "datum.p=='c'&&datum.s=='V'"}], "mark": {"type": "tick", "size": 9, "thickness": 1.4, "opacity": 1}, "encoding": {"y": {"field": "lo", "type": "quantitative", "axis": null}}},
    {"data": {"name": "pts"}, "transform": [{"filter": "datum.p=='c'&&datum.s=='V'"}], "mark": {"type": "point", "filled": false, "size": 68, "strokeWidth": 1.3, "opacity": 1},
     "encoding": {"y": {"field": "v", "type": "quantitative", "axis": null}, "xOffset": {"field": "j", "type": "quantitative", "scale": {"domain": [-0.3, 0.3]}},
      "shape": {"field": "c", "type": "nominal", "scale": {"domain": ["TET","PBP","CTP","OCT","BTE"], "range": ["square","circle","triangle-up","triangle-down","diamond"]}, "legend": null}}},
    {"data": {"name": "pts"}, "transform": [{"filter": "datum.p=='c'&&datum.s=='V'&&datum.c!='PBP'"}], "mark": {"type": "point", "filled": true, "size": 3, "shape": "square", "opacity": 1},
     "encoding": {"y": {"field": "v", "type": "quantitative", "axis": null}, "xOffset": {"field": "j", "type": "quantitative", "scale": {"domain": [-0.3, 0.3]}}}}
   ]}
 ]},
 {"spacing": 0, "bounds": "flush", "vconcat": [
  {"width": 436, "height": 155, "resolve": {"axis": {"y": "independent"}, "scale": {"xOffset": "independent"}},
   "encoding": {"x": {"field": "c", "type": "nominal", "scale": {"domain": ["TET","PBP","CTP","OCT","BTE"], "paddingInner": 0.4, "paddingOuter": 0.2}, "axis": null},
     "color": {"field": "c", "type": "nominal", "scale": {"domain": ["TET","PBP","CTP","OCT","BTE"], "range": ["#800000","#008000","#000080","#8000FF","#000000"]}, "legend": null}},
   "layer": [
    {"data": {"name": "box"}, "transform": [{"filter": "datum.p=='d'&&datum.s=='E'"}], "mark": {"type": "bar", "filled": false, "strokeWidth": 1.5, "width": {"band": 1}},
     "encoding": {"y": {"field": "q1", "type": "quantitative", "scale": {"domain": [-2.9, -2.0], "nice": false, "zero": false},
       "axis": {"orient": "left", "title": "Eᵃᵈ (eV)", "values": [-2.8,-2.6,-2.4,-2.2,-2.0], "format": ".1f", "tickSize": 7, "offset": -7, "labelPadding": 6, "titlePadding": 16}},
      "y2": {"field": "q3"}}},
    {"data": {"name": "box"}, "transform": [{"filter": "datum.p=='d'&&datum.s=='E'"}], "mark": {"type": "tick", "size": 52, "thickness": 1.4, "opacity": 1},
     "encoding": {"y": {"field": "med", "type": "quantitative", "axis": {"orient": "left", "values": [-2.7,-2.5,-2.3,-2.1], "labels": false, "title": null, "tickSize": 4, "offset": -4, "tickColor": "#888"}}}},
    {"data": {"name": "box"}, "transform": [{"filter": "datum.p=='d'&&datum.s=='E'"}], "mark": {"type": "rule", "strokeWidth": 1.4}, "encoding": {"y": {"field": "q3", "type": "quantitative", "axis": null}, "y2": {"field": "hi"}}},
    {"data": {"name": "box"}, "transform": [{"filter": "datum.p=='d'&&datum.s=='E'"}], "mark": {"type": "rule", "strokeWidth": 1.4}, "encoding": {"y": {"field": "lo", "type": "quantitative", "axis": null}, "y2": {"field": "q1"}}},
    {"data": {"name": "box"}, "transform": [{"filter": "datum.p=='d'&&datum.s=='E'"}], "mark": {"type": "tick", "size": 9, "thickness": 1.4, "opacity": 1}, "encoding": {"y": {"field": "hi", "type": "quantitative", "axis": null}}},
    {"data": {"name": "box"}, "transform": [{"filter": "datum.p=='d'&&datum.s=='E'"}], "mark": {"type": "tick", "size": 9, "thickness": 1.4, "opacity": 1}, "encoding": {"y": {"field": "lo", "type": "quantitative", "axis": null}}},
    {"data": {"name": "pts"}, "transform": [{"filter": "datum.p=='d'&&datum.s=='E'"}], "mark": {"type": "point", "filled": false, "size": 68, "strokeWidth": 1.3, "opacity": 1},
     "encoding": {"y": {"field": "v", "type": "quantitative", "axis": null}, "xOffset": {"field": "j", "type": "quantitative", "scale": {"domain": [-0.3, 0.3]}},
      "shape": {"field": "c", "type": "nominal", "scale": {"domain": ["TET","PBP","CTP","OCT","BTE"], "range": ["square","circle","triangle-up","triangle-down","diamond"]}, "legend": null}}},
    {"data": {"name": "pts"}, "transform": [{"filter": "datum.p=='d'&&datum.s=='E'&&datum.c!='PBP'"}], "mark": {"type": "point", "filled": true, "size": 3, "shape": "square", "opacity": 1},
     "encoding": {"y": {"field": "v", "type": "quantitative", "axis": null}, "xOffset": {"field": "j", "type": "quantitative", "scale": {"domain": [-0.3, 0.3]}}}},
    {"data": {"values": [{}]}, "mark": {"type": "text", "text": "Pd", "fontSize": 22, "baseline": "middle", "align": "center"}, "encoding": {"x": {"datum": "CTP"}, "y": {"datum": -2.126, "axis": null}, "color": {"value": "black"}}},
    {"data": {"values": [{}]}, "mark": {"type": "text", "text": "(d)", "fontSize": 22, "baseline": "middle", "align": "center", "dx": 21}, "encoding": {"x": {"datum": "BTE"}, "y": {"datum": -2.136, "axis": null}, "color": {"value": "black"}}}
   ]},
  {"width": 436, "height": 154, "resolve": {"axis": {"y": "independent"}, "scale": {"xOffset": "independent"}},
   "encoding": {"x": {"field": "c", "type": "nominal", "scale": {"domain": ["TET","PBP","CTP","OCT","BTE"], "paddingInner": 0.4, "paddingOuter": 0.2}, "axis": {"title": null, "labelAngle": 0, "tickSize": 7, "offset": -7, "labelPadding": 6}},
     "color": {"field": "c", "type": "nominal", "scale": {"domain": ["TET","PBP","CTP","OCT","BTE"], "range": ["#800000","#008000","#000080","#8000FF","#000000"]}, "legend": null}},
   "layer": [
    {"data": {"name": "box"}, "transform": [{"filter": "datum.p=='d'&&datum.s=='V'"}], "mark": {"type": "bar", "filled": false, "strokeWidth": 1.5, "width": {"band": 1}},
     "encoding": {"y": {"field": "q1", "type": "quantitative", "scale": {"domain": [-0.15, 0.35], "nice": false, "zero": false},
       "axis": {"orient": "left", "title": "dVₚ/Vₚ⁰", "titleFontStyle": "italic", "values": [-0.1,0,0.1,0.2,0.3], "format": ".1f", "tickSize": 7, "offset": -7, "labelPadding": 6, "titlePadding": 7}},
      "y2": {"field": "q3"}}},
    {"data": {"name": "box"}, "transform": [{"filter": "datum.p=='d'&&datum.s=='V'"}], "mark": {"type": "tick", "size": 52, "thickness": 1.4, "opacity": 1},
     "encoding": {"y": {"field": "med", "type": "quantitative", "axis": {"orient": "left", "values": [-0.05,0.05,0.15,0.25], "labels": false, "title": null, "tickSize": 4, "offset": -4, "tickColor": "#888"}}}},
    {"data": {"name": "box"}, "transform": [{"filter": "datum.p=='d'&&datum.s=='V'"}], "mark": {"type": "rule", "strokeWidth": 1.4}, "encoding": {"y": {"field": "q3", "type": "quantitative", "axis": null}, "y2": {"field": "hi"}}},
    {"data": {"name": "box"}, "transform": [{"filter": "datum.p=='d'&&datum.s=='V'"}], "mark": {"type": "rule", "strokeWidth": 1.4}, "encoding": {"y": {"field": "lo", "type": "quantitative", "axis": null}, "y2": {"field": "q1"}}},
    {"data": {"name": "box"}, "transform": [{"filter": "datum.p=='d'&&datum.s=='V'"}], "mark": {"type": "tick", "size": 9, "thickness": 1.4, "opacity": 1}, "encoding": {"y": {"field": "hi", "type": "quantitative", "axis": null}}},
    {"data": {"name": "box"}, "transform": [{"filter": "datum.p=='d'&&datum.s=='V'"}], "mark": {"type": "tick", "size": 9, "thickness": 1.4, "opacity": 1}, "encoding": {"y": {"field": "lo", "type": "quantitative", "axis": null}}},
    {"data": {"name": "pts"}, "transform": [{"filter": "datum.p=='d'&&datum.s=='V'"}], "mark": {"type": "point", "filled": false, "size": 68, "strokeWidth": 1.3, "opacity": 1},
     "encoding": {"y": {"field": "v", "type": "quantitative", "axis": null}, "xOffset": {"field": "j", "type": "quantitative", "scale": {"domain": [-0.3, 0.3]}},
      "shape": {"field": "c", "type": "nominal", "scale": {"domain": ["TET","PBP","CTP","OCT","BTE"], "range": ["square","circle","triangle-up","triangle-down","diamond"]}, "legend": null}}},
    {"data": {"name": "pts"}, "transform": [{"filter": "datum.p=='d'&&datum.s=='V'&&datum.c!='PBP'"}], "mark": {"type": "point", "filled": true, "size": 3, "shape": "square", "opacity": 1},
     "encoding": {"y": {"field": "v", "type": "quantitative", "axis": null}, "xOffset": {"field": "j", "type": "quantitative", "scale": {"domain": [-0.3, 0.3]}}}}
   ]}
 ]}
]}
]
}
